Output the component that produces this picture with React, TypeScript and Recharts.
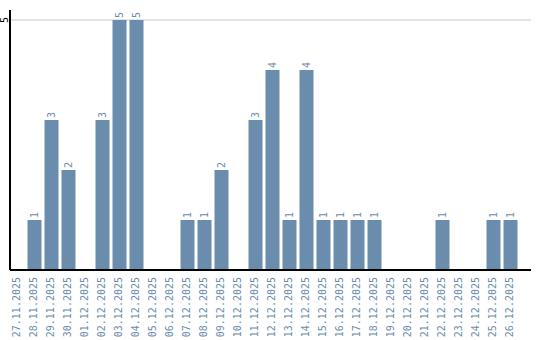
import { Bar, BarChart, CartesianGrid, LabelList, XAxis, YAxis } from "recharts"

const dates = [
  "27.11.2025", "28.11.2025", "29.11.2025", "30.11.2025", "01.12.2025",
  "02.12.2025", "03.12.2025", "04.12.2025", "05.12.2025", "06.12.2025",
  "07.12.2025", "08.12.2025", "09.12.2025", "10.12.2025", "11.12.2025",
  "12.12.2025", "13.12.2025", "14.12.2025", "15.12.2025", "16.12.2025",
  "17.12.2025", "18.12.2025", "19.12.2025", "20.12.2025", "21.12.2025",
  "22.12.2025", "23.12.2025", "24.12.2025", "25.12.2025", "26.12.2025",
]
const counts = [0, 1, 3, 2, 0, 3, 5, 5, 0, 0, 1, 1, 2, 0, 3, 4, 1, 4, 1, 1, 1, 1, 0, 0, 0, 1, 0, 0, 1, 1]
const yTicks = [5]

const data = dates.map((d, i) => ({ date: d, count: counts[i] }))

const blue = "#6a8cad"
const font = "DejaVu Sans Mono"

const XTick = (props: any) => {
  const { x, payload } = props
  const tx = x + 3
  const ty = 277
  return (
    <text x={tx} y={ty} transform={`rotate(-90 ${tx} ${ty})`} textAnchor="end" fill={blue} fontSize={10} fontFamily={font}>
      {payload.value}
    </text>
  )
}

const YTick = (props: any) => {
  const { y, payload } = props
  return (
    <text x={8} y={y} transform={`rotate(-90 8 ${y})`} textAnchor="middle" fill="#000" fontSize={10} fontFamily={font}>
      {payload.value}
    </text>
  )
}

const BarLabel = (props: any) => {
  const { x, y, width, value } = props
  if (!value) return null
  const cx = x + width / 2 + 3.5
  const cy = y - 2
  return (
    <text x={cx} y={cy} transform={`rotate(-90 ${cx} ${cy})`} textAnchor="start" fill={blue} fontSize={10} fontFamily={font}>
      {value}
    </text>
  )
}

export default function App() {
  return (
    <div style={{ position: "absolute", left: 0, top: 0, width: 540, height: 340, background: "#fff" }}>
      <BarChart width={540} height={340} data={data} margin={{ top: 10, right: 9, bottom: 0, left: 0 }} barSize={14}>
        <CartesianGrid vertical={false} stroke="#c8c8c8" horizontalValues={yTicks} />
        <XAxis
          dataKey="date"
          interval={0}
          height={70}
          tick={<XTick />}
          tickLine={false}
          axisLine={{ stroke: "#000", strokeWidth: 2 }}
          padding={{ left: -1.5, right: 12.5 }}
        />
        <YAxis
          width={10}
          domain={[0, 5.2]}
          ticks={yTicks}
          tick={<YTick />}
          tickLine={false}
          axisLine={{ stroke: "#000", strokeWidth: 2 }}
        />
        <Bar dataKey="count" fill={blue} isAnimationActive={false}>
          <LabelList dataKey="count" content={<BarLabel />} />
        </Bar>
      </BarChart>
    </div>
  )
}
